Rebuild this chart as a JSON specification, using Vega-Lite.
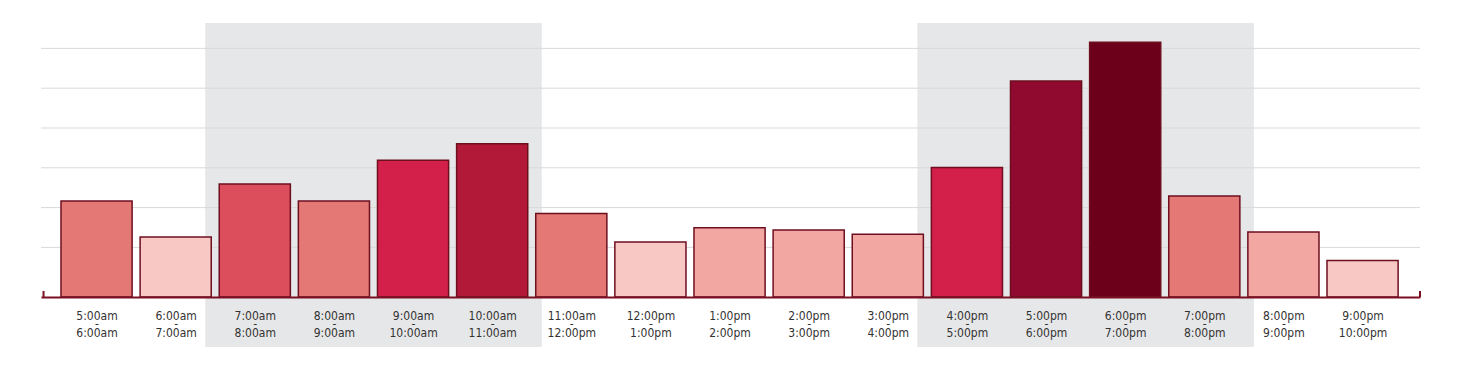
{
  "$schema": "https://vega.github.io/schema/vega-lite/v6.json",
  "width": 1379,
  "height": 274,
  "autosize": {"type": "none"},
  "padding": {"left": 41, "top": 23, "right": 43, "bottom": 80},
  "background": "white",
  "config": {"view": {"stroke": null}},
  "datasets": {
    "bands": [{"start": 7, "end": 11}, {"start": 16, "end": 20}],
    "grid": [{"g": 12.4}, {"g": 22.35}, {"g": 32.3}, {"g": 42.25}, {"g": 52.2}, {"g": 62.15}],
    "edges": [{"e": 4.83}, {"e": 22.226}],
    "traffic": [
      {"hour": 5, "end": 6, "value": 24},
      {"hour": 6, "end": 7, "value": 15},
      {"hour": 7, "end": 8, "value": 28.25},
      {"hour": 8, "end": 9, "value": 24},
      {"hour": 9, "end": 10, "value": 34.2},
      {"hour": 10, "end": 11, "value": 38.3},
      {"hour": 11, "end": 12, "value": 20.9},
      {"hour": 12, "end": 13, "value": 13.75},
      {"hour": 13, "end": 14, "value": 17.3},
      {"hour": 14, "end": 15, "value": 16.75},
      {"hour": 15, "end": 16, "value": 15.7},
      {"hour": 16, "end": 17, "value": 32.4},
      {"hour": 17, "end": 18, "value": 54},
      {"hour": 18, "end": 19, "value": 63.7},
      {"hour": 19, "end": 20, "value": 25.25},
      {"hour": 20, "end": 21, "value": 16.25},
      {"hour": 21, "end": 22, "value": 9.1}
    ]
  },
  "layer": [
    {
      "data": {"name": "bands"},
      "mark": {"type": "rect", "color": "#e6e7e8", "xOffset": -10, "x2Offset": 10},
      "encoding": {
        "x": {"field": "start", "type": "quantitative", "title": null, "scale": {"domain": [4.798, 22.226], "nice": false, "zero": false}},
        "x2": {"field": "end"},
        "y": {"datum": 68.5, "type": "quantitative", "axis": null, "scale": {"domain": [0, 68.5], "nice": false, "zero": false}},
        "y2": {"datum": -12.5}
      }
    },
    {
      "data": {"name": "grid"},
      "mark": {"type": "rule", "color": "#d9d9d9", "strokeWidth": 1},
      "encoding": {
        "y": {"field": "g", "type": "quantitative", "axis": null, "title": null, "scale": {"domain": [0, 68.5], "nice": false, "zero": false}}
      }
    },
    {
      "data": {"name": "traffic"},
      "mark": {"type": "rect", "xOffset": 4, "x2Offset": -4, "stroke": "#6e0f20", "strokeWidth": 1.5},
      "encoding": {
        "x": {
          "field": "hour", "type": "quantitative", "title": null,
          "scale": {"domain": [4.798, 22.226], "nice": false, "zero": false},
          "axis": {
            "values": [5.5, 6.5, 7.5, 8.5, 9.5, 10.5, 11.5, 12.5, 13.5, 14.5, 15.5, 16.5, 17.5, 18.5, 19.5, 20.5, 21.5],
            "labelExpr": "[(floor(datum.value) % 12 == 0 ? 12 : floor(datum.value) % 12) + ':00' + (floor(datum.value) < 12 ? 'am' : 'pm'), '-', ((floor(datum.value) + 1) % 12 == 0 ? 12 : (floor(datum.value) + 1) % 12) + ':00' + (floor(datum.value) + 1 < 12 ? 'am' : 'pm')]",
            "grid": false,
            "ticks": false,
            "tickSize": 0,
            "domainColor": "#7a1022",
            "domainWidth": 2,
            "labelFont": "Liberation Sans Narrow, DejaVu Sans Condensed, sans-serif",
            "labelFontSize": 12,
            "labelColor": "#333333",
            "labelLineHeight": 8.5,
            "labelBaseline": "top",
            "labelPadding": 13,
            "labelFlush": false,
            "labelOverlap": false,
            "labelBound": false,
            "zindex": 1
          }
        },
        "x2": {"field": "end"},
        "y": {"field": "value", "type": "quantitative", "axis": null, "title": null, "scale": {"domain": [0, 68.5], "nice": false, "zero": false}},
        "y2": {"datum": 0},
        "color": {
          "field": "value", "type": "quantitative", "legend": null,
          "scale": {
            "type": "threshold",
            "domain": [15.3, 19, 27, 30, 36, 45, 60],
            "range": ["#f8c8c4", "#f2a7a2", "#e37874", "#dc4e5b", "#d3204a", "#b21838", "#8f0a2e", "#6c001b"]
          }
        }
      }
    },
    {
      "data": {"name": "edges"},
      "mark": {"type": "rule", "color": "#7a1022", "strokeWidth": 2},
      "encoding": {
        "x": {"field": "e", "type": "quantitative", "title": null, "scale": {"domain": [4.798, 22.226], "nice": false, "zero": false}},
        "y": {"datum": 0, "type": "quantitative", "axis": null, "scale": {"domain": [0, 68.5], "nice": false, "zero": false}},
        "y2": {"datum": 1.5}
      }
    }
  ]
}
